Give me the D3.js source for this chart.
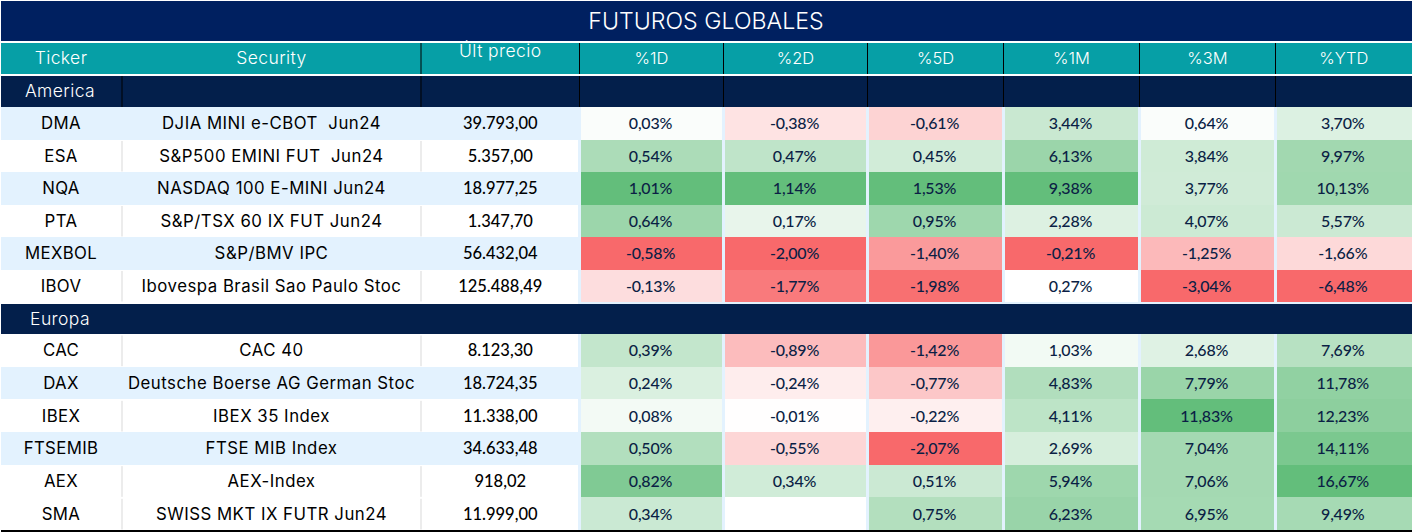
<!DOCTYPE html>
<html>
<head>
<meta charset="utf-8">
<script src="https://cdn.jsdelivr.net/npm/d3@7"></script>
<style>
  body { margin: 0; background: #fff; }
  text { font-family: Inter, sans-serif; white-space: pre; }
  rect { shape-rendering: crispEdges; }
  .num { font-family: Lato, sans-serif; }
</style>
</head>
<body>
<svg id="wrapper" width="1412" height="532"></svg>
<script>
const america = [
    ['DMA', 'DJIA MINI e-CBOT  Jun24', '39.793,00', 0.03, -0.38, -0.61, 3.44, 0.64, 3.70],
    ['ESA', 'S&P500 EMINI FUT  Jun24', '5.357,00', 0.54, 0.47, 0.45, 6.13, 3.84, 9.97],
    ['NQA', 'NASDAQ 100 E-MINI Jun24', '18.977,25', 1.01, 1.14, 1.53, 9.38, 3.77, 10.13],
    ['PTA', 'S&P/TSX 60 IX FUT Jun24', '1.347,70', 0.64, 0.17, 0.95, 2.28, 4.07, 5.57],
    ['MEXBOL', 'S&P/BMV IPC', '56.432,04', -0.58, -2.00, -1.40, -0.21, -1.25, -1.66],
    ['IBOV', 'Ibovespa Brasil Sao Paulo Stoc', '125.488,49', -0.13, -1.77, -1.98, 0.27, -3.04, -6.48]
]
const europa = [
    ['CAC', 'CAC 40', '8.123,30', 0.39, -0.89, -1.42, 1.03, 2.68, 7.69],
    ['DAX', 'Deutsche Boerse AG German Stoc', '18.724,35', 0.24, -0.24, -0.77, 4.83, 7.79, 11.78],
    ['IBEX', 'IBEX 35 Index', '11.338,00', 0.08, -0.01, -0.22, 4.11, 11.83, 12.23],
    ['FTSEMIB', 'FTSE MIB Index', '34.633,48', 0.50, -0.55, -2.07, 2.69, 7.04, 14.11],
    ['AEX', 'AEX-Index', '918,02', 0.82, 0.34, 0.51, 5.94, 7.06, 16.67],
    ['SMA', 'SWISS MKT IX FUTR Jun24', '11.999,00', 0.34, null, 0.75, 6.23, 6.95, 9.49]
]
const allRows = america.concat(europa)
// which rows get the light blue stripe
const striped = ['DMA', 'NQA', 'MEXBOL', 'DAX', 'FTSEMIB']

const pctCols = ['%1D', '%2D', '%5D', '%1M', '%3M', '%YTD']
const columns = ['Ticker', 'Security', 'Últ precio'].concat(pctCols)
const edges = [0, 122, 421, 579.5, 723.5, 867.5, 1003.5, 1139.5, 1275.5, 1412]

const x = d3.scaleOrdinal().domain(columns).range(edges)
const xEnd = d3.scaleOrdinal().domain(columns).range(edges.slice(1))
const xMid = c => (x(c) + xEnd(c)) / 2

const yAmerica = d3.scaleBand().domain(america.map(d => d[0])).range([107, 302])
const yEuropa = d3.scaleBand().domain(europa.map(d => d[0])).range([334, 530])
const y = t => america.some(d => d[0] === t) ? yAmerica(t) : yEuropa(t)
const rowH = t => america.some(d => d[0] === t) ? yAmerica.bandwidth() : yEuropa.bandwidth()

// excel style 3 colour scale, one per column
const mids = { '%1M': 0.27, '%3M': 0.3 }
const colour = {}
pctCols.forEach((c, i) => {
    const vals = allRows.map(d => d[i + 3]).filter(v => v !== null)
    colour[c] = d3.scaleLinear()
        .domain([d3.min(vals), mids[c] || 0, d3.max(vals)])
        .range(['#f8696b', '#ffffff', '#63be7b'])
})
const pct = v => v.toFixed(2).replace('.', ',') + '%'

const svg = d3.select('#wrapper')

// title
svg.append('rect').attr('x', 1).attr('y', 1).attr('width', 1411).attr('height', 40).attr('fill', '#002060')
svg.append('text').attr('x', 706).attr('y', 29).attr('text-anchor', 'middle')
    .attr('fill', '#fff').attr('font-size', 23.2).attr('font-weight', 300).text('FUTUROS GLOBALES')

// header
svg.append('rect').attr('x', 1).attr('y', 43).attr('width', 1411).attr('height', 31).attr('fill', '#069fa6')
svg.selectAll('.head')
    .data(columns)
    .join('text')
    .attr('class', 'head')
    .attr('x', xMid)
    .attr('y', d => d === 'Últ precio' ? 57 : 64)
    .attr('text-anchor', 'middle')
    .attr('fill', '#fff')
    .attr('font-size', d => pctCols.includes(d) ? 16.5 : 17.5)
    .attr('font-weight', 300)
    .attr('letter-spacing', d => pctCols.includes(d) ? 0 : 0.4)
    .text(d => d)
svg.selectAll('.headline')
    .data(columns.slice(2))
    .join('line')
    .attr('class', 'headline')
    .attr('x1', x).attr('x2', x)
    .attr('y1', 43).attr('y2', 74)
    .attr('stroke', '#000')

// light blue showing through the gaps between the heat columns
svg.append('rect').attr('x', 578).attr('y', 107).attr('width', 834).attr('height', 197).attr('fill', '#e3f2fe')
svg.append('rect').attr('x', 578).attr('y', 334).attr('width', 834).attr('height', 196).attr('fill', '#e3f2fe')

// region bands
svg.selectAll('.band')
    .data([['America', 76, 31], ['Europa', 304, 30]])
    .join('rect')
    .attr('class', 'band')
    .attr('x', 1).attr('y', d => d[1])
    .attr('width', 1411).attr('height', d => d[2])
    .attr('fill', '#031f4b')
svg.selectAll('.bandtext')
    .data([['America', 97], ['Europa', 325]])
    .join('text')
    .attr('class', 'bandtext')
    .attr('x', xMid('Ticker') - 1)
    .attr('y', d => d[1])
    .attr('text-anchor', 'middle')
    .attr('fill', '#fff')
    .attr('font-size', 17.5)
    .attr('font-weight', 300)
    .attr('letter-spacing', 0.4)
    .text(d => d[0])
svg.selectAll('.bandline')
    .data(columns.slice(1))
    .join('line')
    .attr('class', 'bandline')
    .attr('x1', x).attr('x2', x)
    .attr('y1', 76).attr('y2', 107)
    .attr('stroke', '#000')

// body rows
const rows = svg.selectAll('.row')
    .data(allRows)
    .join('g')
    .attr('class', 'row')

rows.append('rect')
    .attr('x', 1).attr('y', d => y(d[0]))
    .attr('width', d => striped.includes(d[0]) ? 580 : 577)
    .attr('height', d => rowH(d[0]))
    .attr('fill', d => striped.includes(d[0]) ? '#e3f2fe' : '#fff')

rows.filter(d => !striped.includes(d[0])).each(function (d) {
    d3.select(this).selectAll('.sep')
        .data(columns.slice(1, 3))
        .join('line')
        .attr('class', 'sep')
        .attr('x1', x).attr('x2', x)
        .attr('y1', y(d[0]) + 1.5).attr('y2', y(d[0]) + rowH(d[0]) - 0.5)
        .attr('stroke', '#d9d9d9')
})

rows.selectAll('.info')
    .data(d => d.slice(0, 3).map((v, i) => ({ v: v, c: columns[i], t: d[0] })))
    .join('text')
    .attr('class', d => d.c === 'Últ precio' ? 'info num' : 'info')
    .attr('x', d => xMid(d.c))
    .attr('y', d => y(d.t) + rowH(d.t) / 2 + 6)
    .attr('text-anchor', 'middle')
    .attr('fill', '#000')
    .attr('font-size', d => d.c === 'Últ precio' ? 16.5 : 16.8)
    .attr('font-weight', d => d.c === 'Últ precio' ? 500 : 400)
    .attr('letter-spacing', d => d.c === 'Security' ? 0.5 : d.c === 'Ticker' ? 0.35 : 0)
    .text(d => d.v)

const cells = rows.selectAll('.cell')
    .data(d => pctCols.map((c, i) => ({ v: d[i + 3], c: c, t: d[0] })))
    .join('g')
    .attr('class', 'cell')

cells.append('rect')
    .attr('x', d => x(d.c) + 1.5)
    .attr('y', d => y(d.t))
    .attr('width', d => xEnd(d.c) - x(d.c) - (d.c === '%YTD' ? 1.5 : 3))
    .attr('height', d => rowH(d.t))
    .attr('fill', d => d.v === null ? '#fff' : colour[d.c](d.v))

cells.append('text')
    .attr('class', 'num')
    .attr('x', d => xMid(d.c) - 1)
    .attr('y', d => y(d.t) + rowH(d.t) / 2 + 6)
    .attr('text-anchor', 'middle')
    .attr('fill', '#0b1f45')
    .attr('font-size', 16)
    .attr('font-weight', 500)
    .attr('letter-spacing', -0.2)
    .text(d => d.v === null ? '' : pct(d.v))

// bottom rule
svg.append('line').attr('x1', 1).attr('x2', 1412).attr('y1', 531).attr('y2', 531)
    .attr('stroke', '#000').attr('stroke-width', 2)
</script>
</body>
</html>
